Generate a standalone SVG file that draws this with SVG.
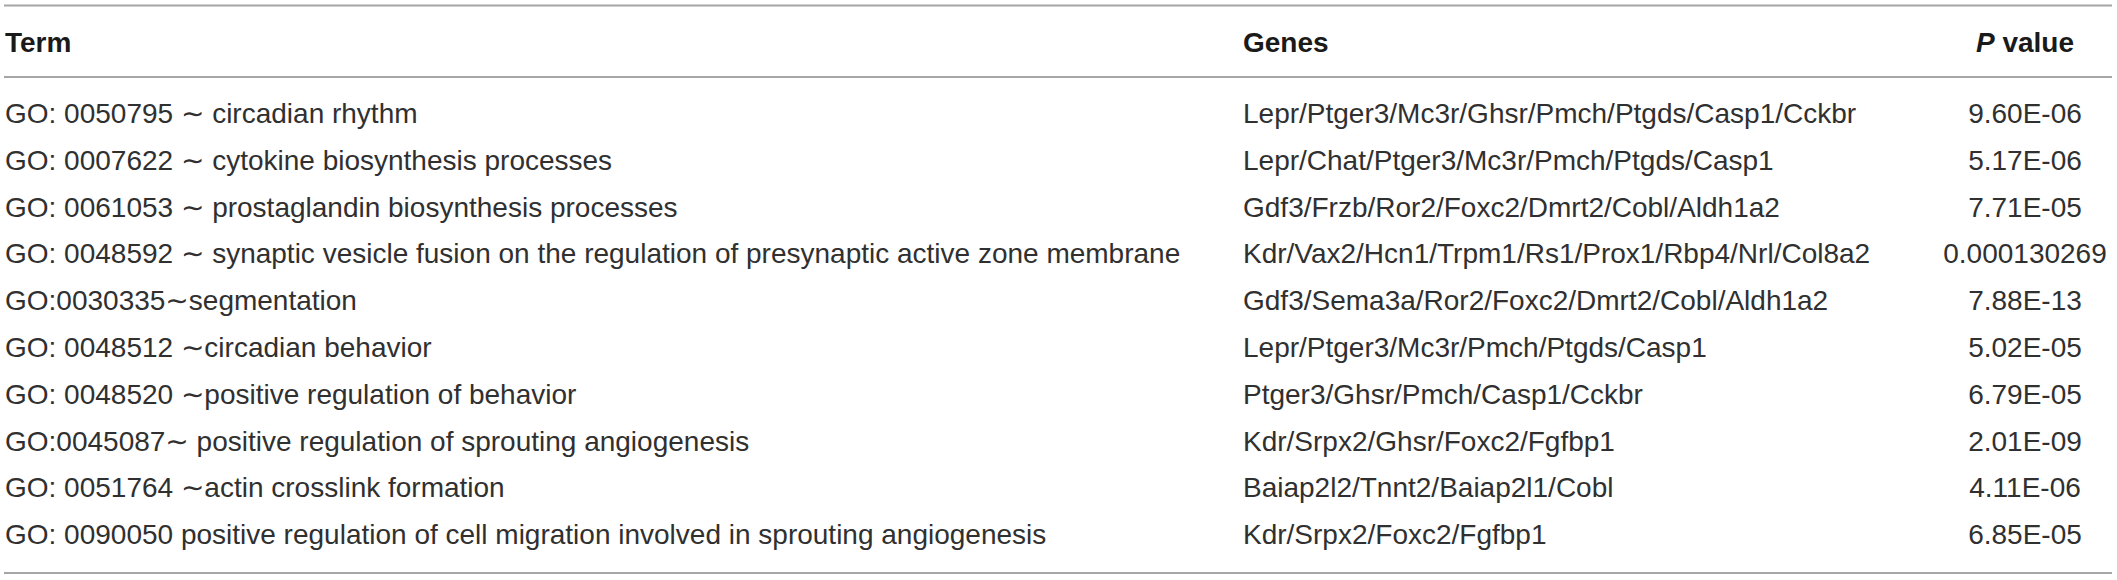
<svg xmlns="http://www.w3.org/2000/svg" width="2117" height="580" viewBox="0 0 2117 580">
<style>
.t{font-family:"Liberation Sans",Arial,"DejaVu Sans",sans-serif;font-size:28px;fill:#303030}
.h{font-family:"Liberation Sans",Arial,sans-serif;font-size:28px;font-weight:bold;fill:#1a1a1a}
.c{text-anchor:middle}
.rule{stroke:#a6a6a6;stroke-width:2}
</style>
<rect width="2117" height="580" fill="#ffffff"/>
<g id="rules">
<line class="rule" x1="4" y1="5.5" x2="2112" y2="5.5"/>
<line class="rule" x1="4" y1="77" x2="2112" y2="77"/>
<line class="rule" x1="4" y1="573" x2="2112" y2="573" stroke-width="3"/>
</g>
<g id="header">
<text class="h" x="5" y="51.5">Term</text>
<text class="h" x="1243" y="51.5">Genes</text>
<text class="h c" x="2025" y="51.5"><tspan font-style="italic">P</tspan> value</text>
</g>
<g id="terms">
<text class="t" x="5" y="123">GO: 0050795 ∼ circadian rhythm</text>
<text class="t" x="5" y="169.8">GO: 0007622 ∼ cytokine biosynthesis processes</text>
<text class="t" x="5" y="216.6">GO: 0061053 ∼ prostaglandin biosynthesis processes</text>
<text class="t" x="5" y="263.4">GO: 0048592 ∼ synaptic vesicle fusion on the regulation of presynaptic active zone membrane</text>
<text class="t" x="5" y="310.2">GO:0030335∼segmentation</text>
<text class="t" x="5" y="357">GO: 0048512 ∼circadian behavior</text>
<text class="t" x="5" y="403.8">GO: 0048520 ∼positive regulation of behavior</text>
<text class="t" x="5" y="450.6">GO:0045087∼ positive regulation of sprouting angiogenesis</text>
<text class="t" x="5" y="497.4">GO: 0051764 ∼actin crosslink formation</text>
<text class="t" x="5" y="544.2">GO: 0090050 positive regulation of cell migration involved in sprouting angiogenesis</text>
</g>
<g id="genes">
<text class="t" x="1243" y="123">Lepr/Ptger3/Mc3r/Ghsr/Pmch/Ptgds/Casp1/Cckbr</text>
<text class="t" x="1243" y="169.8">Lepr/Chat/Ptger3/Mc3r/Pmch/Ptgds/Casp1</text>
<text class="t" x="1243" y="216.6">Gdf3/Frzb/Ror2/Foxc2/Dmrt2/Cobl/Aldh1a2</text>
<text class="t" x="1243" y="263.4">Kdr/Vax2/Hcn1/Trpm1/Rs1/Prox1/Rbp4/Nrl/Col8a2</text>
<text class="t" x="1243" y="310.2">Gdf3/Sema3a/Ror2/Foxc2/Dmrt2/Cobl/Aldh1a2</text>
<text class="t" x="1243" y="357">Lepr/Ptger3/Mc3r/Pmch/Ptgds/Casp1</text>
<text class="t" x="1243" y="403.8">Ptger3/Ghsr/Pmch/Casp1/Cckbr</text>
<text class="t" x="1243" y="450.6">Kdr/Srpx2/Ghsr/Foxc2/Fgfbp1</text>
<text class="t" x="1243" y="497.4">Baiap2l2/Tnnt2/Baiap2l1/Cobl</text>
<text class="t" x="1243" y="544.2">Kdr/Srpx2/Foxc2/Fgfbp1</text>
</g>
<g id="pvalues">
<text class="t c" x="2025" y="123">9.60E-06</text>
<text class="t c" x="2025" y="169.8">5.17E-06</text>
<text class="t c" x="2025" y="216.6">7.71E-05</text>
<text class="t c" x="2025" y="263.4">0.000130269</text>
<text class="t c" x="2025" y="310.2">7.88E-13</text>
<text class="t c" x="2025" y="357">5.02E-05</text>
<text class="t c" x="2025" y="403.8">6.79E-05</text>
<text class="t c" x="2025" y="450.6">2.01E-09</text>
<text class="t c" x="2025" y="497.4">4.11E-06</text>
<text class="t c" x="2025" y="544.2">6.85E-05</text>
</g>
</svg>
